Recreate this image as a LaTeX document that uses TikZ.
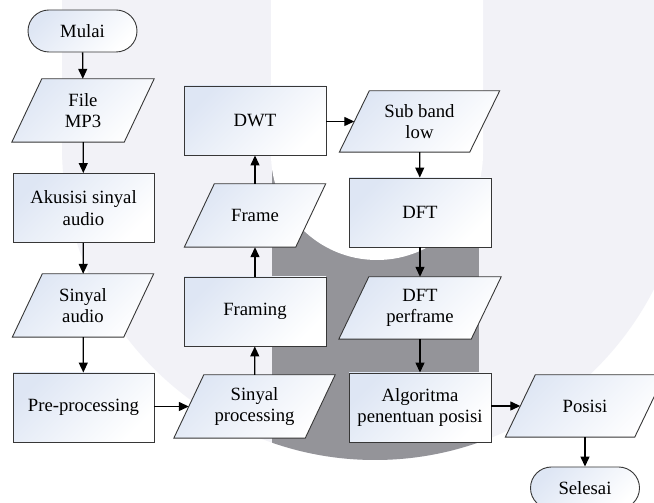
\documentclass[tikz,border=0pt]{standalone}
\usepackage{fontspec}
\setmainfont{Liberation Serif}
\usetikzlibrary{arrows.meta}
\definecolor{wmlight}{RGB}{242,242,247}
\definecolor{wmdark}{RGB}{148,148,153}
\definecolor{boxtint}{RGB}{222,230,244}
\definecolor{edgec}{RGB}{55,55,55}
\pgfdeclarelayer{wm}
\pgfdeclarelayer{bg}
\pgfsetlayers{wm,bg,main}
\tikzset{
  boxfill/.style={top color=boxtint, bottom color=white, shading angle=45},
  procbox/.style={draw=edgec, line width=0.9pt, boxfill, minimum width=142pt, minimum height=69pt, inner sep=2pt, align=center},
  termbox/.style={draw=edgec, line width=0.9pt, boxfill, rounded corners=21pt, minimum width=109pt, minimum height=42pt, inner sep=2pt, align=center},
  iobody/.style={shape=rectangle, minimum height=#1, inner sep=0pt, align=center},
  ioshape/.style={draw=edgec, line width=0.9pt, boxfill},
  flow/.style={line width=1.3pt, -{Triangle[length=10pt,width=9pt]}},
}
\begin{document}
\begin{tikzpicture}[x=1pt, y=1pt, font=\fontsize{18.7pt}{21.5pt}\selectfont]
\useasboundingbox (0,0) rectangle (654,503);
\clip (0,0) rectangle (654,503);
% watermark
\begin{pgfonlayer}{wm}
\fill[white] (0,0) rectangle (654,503);
\fill[wmlight] (62,503) -- (62,356) arc[start angle=180, end angle=360, radius=313] -- (688,503) -- cycle;
\begin{scope}
\clip (62,356) arc[start angle=180, end angle=360, radius=313] -- (688,503) -- (62,503) -- cycle;
\fill[wmdark] (272,0) rectangle (479,503);
\end{scope}
\fill[white] (271,503) -- (271,349) arc[start angle=180, end angle=360, radius=106] -- (483,503) -- cycle;
\end{pgfonlayer}
% nodes
\node[termbox] (mulai) at (82.5,472) {Mulai};
\node[iobody=63pt, minimum width=112pt] (fmp3) at (83,392.5) {File\\MP3};
\node[procbox, minimum width=141pt] (akus) at (83.5,295) {Akusisi sinyal\\audio};
\node[iobody=63pt, minimum width=111pt] (saudio) at (83,197.5) {Sinyal\\audio};
\node[procbox, minimum width=141pt] (pre) at (83.5,95.5) {Pre-processing};
\node[iobody=63pt, minimum width=131pt] (sproc) at (254.5,96.5) {Sinyal\\processing};
\node[procbox] (framing) at (255,191.5) {Framing};
\node[iobody=63pt, minimum width=111pt] (frame) at (255,287.5) {Frame};
\node[procbox] (dwt) at (255,382.5) {DWT};
\node[iobody=61pt, minimum width=130pt] (subb) at (419.5,381.5) {Sub band\\low};
\node[procbox] (dft) at (420,290.5) {DFT};
\node[iobody=62pt, minimum width=132pt] (dftp) at (420,195) {DFT\\perframe};
\node[procbox] (algo) at (420,95.5) {Algoritma\\penentuan posisi};
\node[iobody=62pt, minimum width=129pt] (pos) at (585,97) {Posisi};
\node[termbox] (sel) at (585,15) {Selesai};
% parallelogram outlines
\begin{pgfonlayer}{bg}
\foreach \n in {fmp3,saudio,sproc,frame,subb,dftp,pos}
  \path[ioshape] ([xshift=15pt]\n.north west) -- ([xshift=15pt]\n.north east) -- ([xshift=-15pt]\n.south east) -- ([xshift=-15pt]\n.south west) -- cycle;
\end{pgfonlayer}
% connectors
\draw[flow] (mulai) -- (fmp3);
\draw[flow] (fmp3) -- (akus);
\draw[flow] (akus) -- (saudio);
\draw[flow] (saudio) -- (pre);
\draw[flow] (pre.east |- sproc.west) -- (sproc.west);
\draw[flow] (sproc) -- (framing);
\draw[flow] (framing) -- (frame);
\draw[flow] (frame) -- (dwt);
\draw[flow] (dwt.east |- subb.west) -- (subb.west);
\draw[flow] (subb) -- (dft);
\draw[flow] (dft) -- (dftp);
\draw[flow] (dftp) -- (algo);
\draw[flow] (algo.east |- pos.west) -- (pos.west);
\draw[flow] (pos) -- (sel);
\end{tikzpicture}
\end{document}
